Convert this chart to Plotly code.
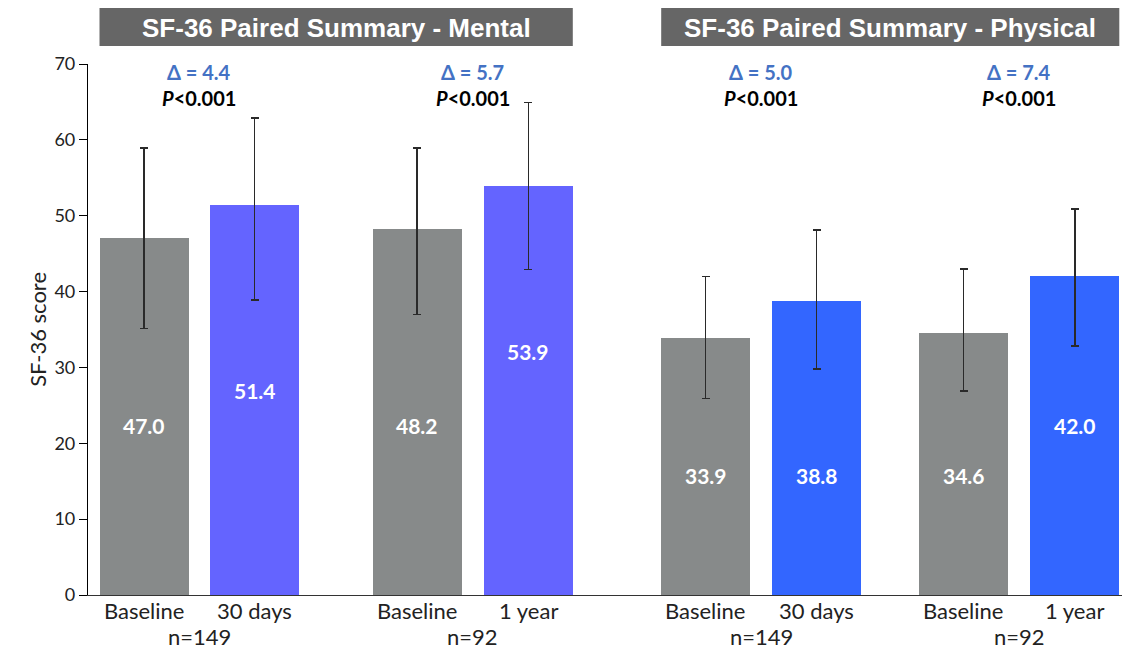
import plotly.graph_objects as go

# ---- data -------------------------------------------------------------
groups = ["Mental 30d", "Mental 1y", "Physical 30d", "Physical 1y"]
bar_labels = ["Baseline", "30 days", "Baseline", "1 year",
              "Baseline", "30 days", "Baseline", "1 year"]
means = [47.0, 51.4, 48.2, 53.9, 33.9, 38.8, 34.6, 42.0]
err_up = [11.9, 11.5, 10.7, 11.0, 8.1, 9.3, 8.4, 8.9]
err_down = [11.9, 12.5, 11.2, 11.0, 8.0, 9.0, 7.7, 9.2]
deltas = ["4.4", "5.7", "5.0", "7.4"]
p_values = ["<0.001", "<0.001", "<0.001", "<0.001"]
n_labels = ["n=149", "n=92", "n=149", "n=92"]
panel_titles = ["SF-36 Paired Summary - Mental", "SF-36 Paired Summary - Physical"]
y_ticks = [0, 10, 20, 30, 40, 50, 60, 70]

# ---- layout helpers ---------------------------------------------------
x_pos = [0.56, 1.665, 3.292, 4.403, 6.177, 7.285, 8.755, 9.868]
bar_w = 0.89
value_label_y = [22.4, 26.9, 22.4, 32.1, 15.7, 15.7, 15.7, 22.4]
colors = ["#878a8a", "#6464ff", "#878a8a", "#6464ff",
          "#878a8a", "#3366ff", "#878a8a", "#3366ff"]

CAL = "Lato, 'Open Sans', sans-serif"
ARIAL = "'Liberation Sans', Arial, sans-serif"


def label(x, y, text, font, xref="x", yref="y", **kw):
    return dict(x=x, y=y, xref=xref, yref=yref, text=text, showarrow=False,
                xanchor="center", yanchor="middle", font=font, **kw)


fig = go.Figure()
fig.add_trace(go.Bar(
    x=x_pos, y=means, width=bar_w,
    marker=dict(color=colors, line=dict(width=0)),
    error_y=dict(type="data", symmetric=False, array=err_up, arrayminus=err_down,
                 color="#2a2a2a", thickness=1.5, width=4),
    hoverinfo="skip", showlegend=False,
))

ann = []
# values inside bars
for x, v, ly in zip(x_pos, means, value_label_y):
    ann.append(label(x, ly, f"<b>{v:.1f}</b>",
                     dict(family=CAL, size=21, color="white")))
# category labels under bars
for x, t in zip(x_pos, bar_labels):
    ann.append(label(x, -0.030, t, dict(family=CAL, size=22, color="#222222"),
                     yref="paper"))
# per-comparison annotations
for i in range(len(groups)):
    gx = (x_pos[2 * i] + x_pos[2 * i + 1]) / 2
    ann.append(label(gx, -0.079, n_labels[i],
                     dict(family=CAL, size=22, color="#222222"), yref="paper"))
    ann.append(label(gx, 68.9, f"<b>Δ = {deltas[i]}</b>",
                     dict(family=CAL, size=20, color="#4472c4")))
    ann.append(label(gx, 65.5, f"<b><i>P</i>{p_values[i]}</b>",
                     dict(family=CAL, size=20, color="black")))

# panel header boxes
shapes = []
for k, title in enumerate(panel_titles):
    x0 = x_pos[4 * k] - bar_w / 2
    x1 = x_pos[4 * k + 3] + bar_w / 2
    shapes.append(dict(type="rect", xref="x", yref="paper", x0=x0, x1=x1,
                       y0=1.034, y1=1.1055, fillcolor="#666666", line=dict(width=0),
                       layer="below"))
    ann.append(label((x0 + x1) / 2, 1.067, f"<b>{title}</b>",
                     dict(family=ARIAL, size=26, color="white"), yref="paper"))

# y axis title
ann.append(label(-0.049, 0.5, "SF-36 score",
                 dict(family=CAL, size=22, color="#222222"),
                 xref="paper", yref="paper", textangle=-90))

fig.update_layout(
    width=1126, height=652,
    margin=dict(l=88, r=4, t=64, b=57),
    paper_bgcolor="white", plot_bgcolor="white",
    annotations=ann, shapes=shapes,
    bargap=0,
    xaxis=dict(range=[0, 10.34], showgrid=False, zeroline=False, showticklabels=False,
               showline=True, linecolor="#333333", linewidth=1.2, ticks=""),
    yaxis=dict(range=[0, 70], tickvals=y_ticks, showgrid=False, zeroline=False,
               showline=True, linecolor="black", linewidth=1.2,
               ticks="outside", ticklen=8, tickcolor="black",
               tickfont=dict(family=CAL, size=18, color="#222222")),
)

fig.write_html("out.html")
